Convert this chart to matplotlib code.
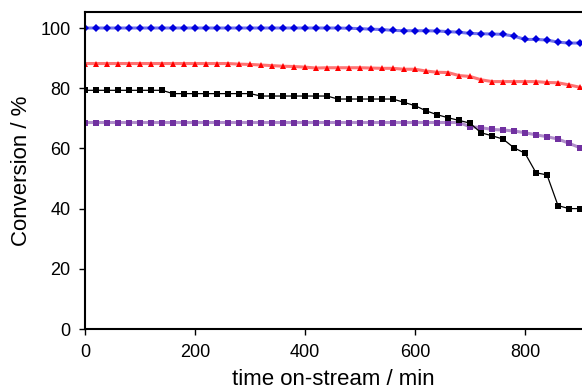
import matplotlib
matplotlib.use("Agg")
import matplotlib.pyplot as plt
import numpy as np

plt.rcParams['font.family'] = ['Liberation Sans', 'DejaVu Sans']

# time on stream, one reading every 20 min
time_min = list(range(0, 901, 20))

conv_blue = [100.0] * 24 + [99.9, 99.8, 99.6, 99.5, 99.2, 99.1, 99.1, 99.1, 99.0, 98.8,
                            98.6, 98.2, 98.1, 98.0, 97.9, 97.3, 96.2, 96.2, 96.0, 95.3,
                            95.0, 95.0]
conv_red = [88.2] * 14 + [88.0, 87.9, 87.7, 87.5, 87.3, 87.2, 87.0, 86.7, 86.8,
                          86.8, 86.8, 86.8, 86.7, 86.6, 86.6, 86.3, 86.3, 85.7, 85.3,
                          85.2, 84.2, 83.9, 82.8, 82.2, 82.2, 82.2, 82.2, 82.2, 81.9,
                          81.8, 81.1, 80.3]
conv_black = [79.3] * 8 + [78.2] * 8 + [77.4] * 7 + [76.4] * 6 + [
    75.3, 74.2, 72.5, 71.2, 70.2, 69.3, 68.4, 65.2, 64.2, 63.1, 60.2, 58.4,
    51.9, 51.2, 41.0, 40.0, 40.0]
conv_purple = [68.6] * 35 + [67.2, 66.9, 66.3, 66.1, 65.8, 65.2, 64.5, 63.9, 63.1,
                             61.7, 60.2]

fig = plt.figure(figsize=(5.82, 3.90), dpi=100)
ax = fig.add_axes([85 / 582, 1 - 329 / 390, 1 - 85 / 582, (329 - 12) / 390])

ax.plot(time_min, conv_blue, '-', color='#0000dd', lw=2.2, alpha=0.55)
ax.plot(time_min, conv_blue, 'D', color='#0000dd', ms=4, mew=0, ls='none')
ax.plot(time_min, conv_red, '-', color='#ff0000', lw=2.2, alpha=0.55)
ax.plot(time_min, conv_red, '^', color='#ff0000', ms=5, mew=0, ls='none')
ax.plot(time_min, conv_purple, '-', color='#7030a0', lw=2.2, alpha=0.55)
ax.plot(time_min, conv_purple, 's', color='#7030a0', ms=4.2, mew=0, ls='none')
ax.plot(time_min, conv_black, '-', color='black', lw=0.9, marker='s', ms=4.2, mew=0)

ax.set_xlim(0, (582 - 85) / 0.55)
ax.set_ylim(0, (329 - 12) / 3.01)
ax.set_xticks([0, 200, 400, 600, 800])
ax.set_yticks([0, 20, 40, 60, 80, 100])
ax.tick_params(direction='out', length=4.5, width=1, labelsize=13, pad=6)

for s in ['left', 'bottom', 'top']:
    ax.spines[s].set_linewidth(1.5)
ax.spines['right'].set_visible(False)

ax.set_xlabel('time on-stream / min', fontsize=16, labelpad=6)
ax.set_ylabel('Conversion / %', fontsize=16, labelpad=6)

fig.savefig('out.png', dpi=100)
